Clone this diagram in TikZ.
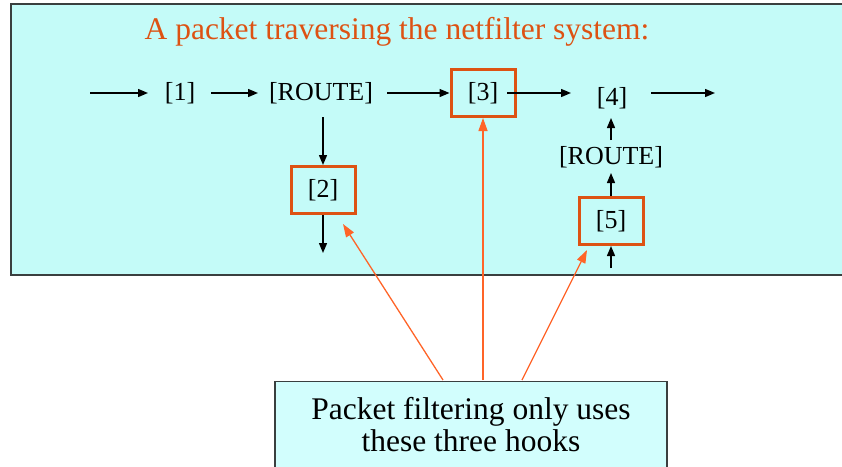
\documentclass[tikz,border=0pt]{standalone}
\usepackage{fontspec}
\setmainfont{Liberation Serif}
\usetikzlibrary{arrows.meta}
\definecolor{panelcyan}{HTML}{C4FBF8}
\definecolor{notecyan}{HTML}{D2FEFD}
\definecolor{hookorange}{HTML}{DD5213}
\definecolor{pointorange}{HTML}{FF6428}
\definecolor{framegray}{HTML}{3A3F3F}
\tikzset{
  lbl/.style={inner sep=0pt, font=\fontsize{26}{30}\selectfont},
  hook/.style={draw=hookorange, line width=3pt, minimum width=64pt, minimum height=47pt, inner sep=0pt, font=\fontsize{26}{30}\selectfont},
  flow/.style={line width=1.4pt, -{Triangle[length=10pt,width=8pt]}},
  pointer/.style={draw=pointorange, line width=1.3pt, -{Triangle[length=13pt,width=9pt]}},
}
\begin{document}
\begin{tikzpicture}[x=1pt,y=-1pt]
\useasboundingbox (0,0) rectangle (842,466);
% background panel holding the packet path
\draw[framegray, line width=1.5pt, fill=panelcyan] (11,4) rectangle (860,275);
\node[text=hookorange, inner sep=0pt, font=\fontsize{31.5}{36}\selectfont] (title) at (397,32) {A packet traversing the netfilter system:};
% main row
\node[lbl] (n1) at (180,93) {[1]};
\node[lbl] (r1) at (321,93) {[ROUTE]};
\node[hook] (n3) at (483,93) {[3]};
\node[lbl] (n4) at (612,98) {[4]};
\coordinate (in) at (90,93);
\coordinate (in1) at (148,93);
\coordinate (a2s) at (211,93);
\coordinate (a2e) at (258,93);
\coordinate (a3s) at (387,93);
\coordinate (a4s) at (507,93);
\coordinate (a4e) at (571,93);
\coordinate (a5s) at (651,93);
\coordinate (out) at (715,93);
\draw[flow] (in) -- (in1);
\draw[flow] (a2s) -- (a2e);
\draw[flow] (a3s) -- (n3.west);
\draw[flow] (a4s) -- (a4e);
\draw[flow] (a5s) -- (out);
% local delivery branch
\node[hook] (n2) at (323,190) {[2]};
\coordinate (r1low) at (323,117);
\coordinate (down) at (323,253);
\draw[flow] (r1low) -- (n2.north);
\draw[flow] (n2.south) -- (down);
% locally generated branch
\node[lbl] (r2) at (611,157) {[ROUTE]};
\node[hook] (n5) at (611,221) {[5]};
\coordinate (r2top) at (611,140);
\coordinate (n4low) at (611,118);
\coordinate (r2low) at (611,173);
\coordinate (up) at (611,268);
\draw[flow] (r2top) -- (n4low);
\draw[flow] (n5.north) -- (r2low);
\draw[flow] (up) -- (n5.south);
% note box with pointers to the filtering hooks
\node[draw=framegray, line width=1.2pt, fill=notecyan, minimum width=392pt, minimum height=100pt, anchor=north, inner sep=0pt] (note) at (471,381) {};
\node[align=center, inner sep=0pt, font=\fontsize{31.5}{32}\selectfont] (notetext) at (471,425) {Packet filtering only uses\\these three hooks};
\coordinate (p2s) at (443,380);
\coordinate (p2e) at (343,224);
\coordinate (p3s) at (483,380);
\coordinate (p5s) at (522,380);
\coordinate (p5e) at (587,250);
\draw[pointer] (p2s) -- (p2e);
\draw[pointer] (p3s) -- (n3.south);
\draw[pointer] (p5s) -- (p5e);
\end{tikzpicture}
\end{document}
